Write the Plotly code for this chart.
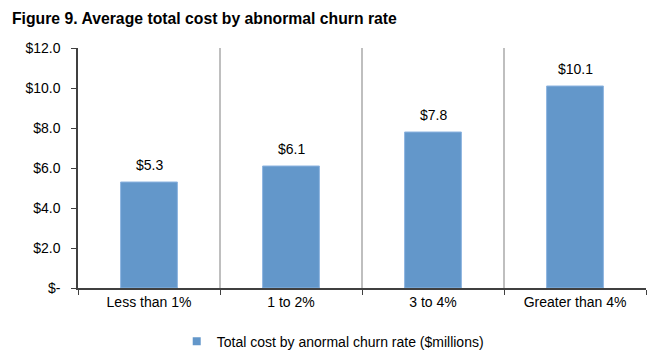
import plotly.graph_objects as go

categories = ["Less than 1%", "1 to 2%", "3 to 4%", "Greater than 4%"]
values = [5.3, 6.1, 7.8, 10.1]
value_labels = ["$5.3", "$6.1", "$7.8", "$10.1"]
y_tickvals = [0, 2, 4, 6, 8, 10, 12]
y_ticktext = ["$-", "$2.0", "$4.0", "$6.0", "$8.0", "$10.0", "$12.0"]
series_name = "Total cost by anormal churn rate ($millions)"
title_text = "Figure 9. Average total cost by abnormal churn rate"

FONT = "Liberation Sans, Arial, sans-serif"
BAR = "#6397CA"

fig = go.Figure()
fig.add_trace(go.Bar(
    x=categories, y=values, name=series_name, showlegend=False,
    marker=dict(color=BAR, line=dict(color="#8DB4E0", width=1)),
    width=0.4,
))
# legend entry with small square swatch
fig.add_trace(go.Scatter(
    x=[None], y=[None], mode="markers", name=series_name,
    marker=dict(symbol="square", size=8, color=BAR),
))

for c, v, t in zip(categories, values, value_labels):
    fig.add_annotation(x=c, y=v, text=t, showarrow=False, yanchor="bottom",
                       yshift=7, font=dict(family=FONT, size=14, color="black"))

# page body has an 8px default margin, so the figure is 8px smaller
fig.update_layout(
    width=660, height=355,
    margin=dict(l=70, r=22, t=40, b=75, autoexpand=False),
    paper_bgcolor="white", plot_bgcolor="white",
    font=dict(family=FONT, size=14, color="black"),
    title=dict(text="<b>" + title_text + "</b>", x=0, xref="container", xanchor="left",
               y=1, yref="container", yanchor="top", pad=dict(t=5, l=4),
               font=dict(family=FONT, size=15.75, color="black"), automargin=False),
    showlegend=True,
    legend=dict(orientation="h", x=0.492, xref="container", xanchor="center",
                y=0.015, yref="container", yanchor="bottom", font=dict(family=FONT, size=14),
                itemwidth=30, bgcolor="rgba(0,0,0,0)"),
    bargap=0.6,
)
fig.update_xaxes(
    type="category", tickson="boundaries", showgrid=True, gridcolor="#BFBFBF",
    gridwidth=1.5, showline=True, linecolor="#404040", linewidth=1.5,
    ticks="outside", ticklen=5, tickcolor="#404040", range=[-0.5, 3.5],
    tickfont=dict(family=FONT, size=14), zeroline=False, automargin=False,
)
fig.update_yaxes(
    range=[0, 12], tickvals=y_tickvals, ticktext=y_ticktext, showgrid=False,
    showline=True, linecolor="#404040", linewidth=1.5, ticks="outside",
    ticklen=5, tickcolor="#404040", ticklabelstandoff=8,
    tickfont=dict(family=FONT, size=14), zeroline=False, automargin=False,
)

fig.write_html("out.html")
